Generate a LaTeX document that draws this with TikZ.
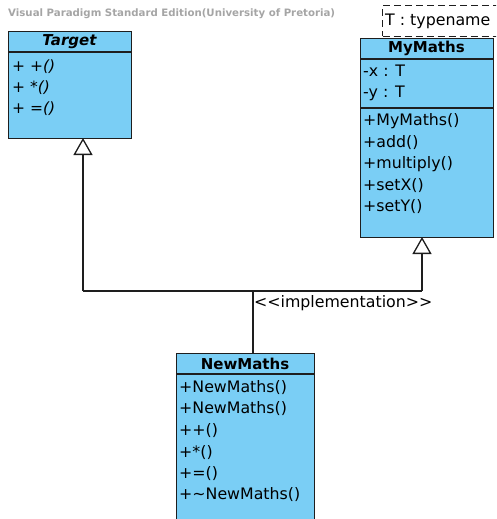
\documentclass[tikz,border=0pt]{standalone}
\usepackage{fontspec}
\setmainfont{DejaVu Sans}
\usetikzlibrary{arrows.meta}
\definecolor{boxblue}{RGB}{122,206,245}
\definecolor{boxline}{RGB}{30,30,30}
\definecolor{titlegray}{RGB}{165,165,165}
\tikzset{
  classbox/.style={draw=boxline, line width=1.4pt, fill=boxblue, anchor=north west, inner sep=0pt},
  sepline/.style={draw=boxline, line width=1.2pt},
  member/.style={anchor=west, inner sep=0pt, font=\fontsize{15.8}{18}\selectfont},
  amember/.style={member, font=\fontsize{15.5}{18}\selectfont\itshape},
  header/.style={inner sep=0pt, font=\fontsize{15}{18}\selectfont\bfseries},
  conn/.style={draw=boxline, line width=1.3pt},
  gen/.style={conn, -{Triangle[open, length=17pt, width=19pt, line width=1.3pt]}}
}
\begin{document}
\begin{tikzpicture}[x=1pt, y=-1pt]
\useasboundingbox (0,0) rectangle (496,519);
\clip (0,0) rectangle (496,519);
% title
\node[anchor=west, inner sep=0pt, text=titlegray, font=\fontsize{10.2}{12}\selectfont\bfseries] (title) at (8,14) {Visual Paradigm Standard Edition(University of Pretoria)};
% Target
\node[classbox, minimum width=123pt, minimum height=107pt] (target) at (8,31) {};
\draw[sepline] (8,52) -- (131,52);
\node[header, font=\fontsize{15}{18}\selectfont\bfseries\itshape] (targetname) at (69.5,42) {Target};
\node[amember] (t1) at (12,67) {+ +()};
\node[amember] (t2) at (12,88) {+ *()};
\node[amember] (t3) at (12,109) {+ =()};
% MyMaths
\node[classbox, minimum width=133pt, minimum height=199pt] (mymaths) at (360,38) {};
\draw[sepline] (360,59) -- (493,59);
\draw[sepline] (360,108) -- (493,108);
\node[header] (mymathsname) at (426.5,48.5) {MyMaths};
\node[member] (m1) at (363,71) {-x : T};
\node[member] (m2) at (363,93) {-y : T};
\node[member] (m3) at (363,121) {+MyMaths()};
\node[member] (m4) at (363,143) {+add()};
\node[member] (m5) at (363,164) {+multiply()};
\node[member] (m6) at (363,186) {+setX()};
\node[member] (m7) at (363,207) {+setY()};
% template parameter
\node[draw=boxline, dash pattern=on 7pt off 4pt, line width=1pt, fill=white, anchor=north west, minimum width=120pt, minimum height=31pt, inner sep=0pt] (tparam) at (382,5) {};
\node[member] (tparamtext) at (385,21) {T : typename};
% NewMaths
\node[classbox, minimum width=138pt, minimum height=180pt] (newmaths) at (176,353) {};
\draw[sepline] (176,374) -- (314,374);
\node[header] (newmathsname) at (245,363.5) {NewMaths};
\node[member] (n1) at (179,388) {+NewMaths()};
\node[member] (n2) at (179,409) {+NewMaths()};
\node[member] (n3) at (179,431) {++()};
\node[member] (n4) at (179,453) {+*()};
\node[member] (n5) at (179,474) {+=()};
\node[member] (n6) at (179,495) {+\char`~NewMaths()};
% connectors
\coordinate (tgttip) at (83,138);
\coordinate (mmtip) at (422,237);
\coordinate (jl) at (83,291);
\coordinate (jr) at (422,291);
\coordinate (jm) at (253,291);
\draw[gen] (jl) -- (tgttip);
\draw[gen] (jr) -- (mmtip);
\draw[conn] (jl) -- (jr);
\draw[conn] (jm) -- (newmaths.north -| jm);
\node[member] (impl) at (254,303) {{<}{<}implementation{>}{>}};
\end{tikzpicture}
\end{document}
